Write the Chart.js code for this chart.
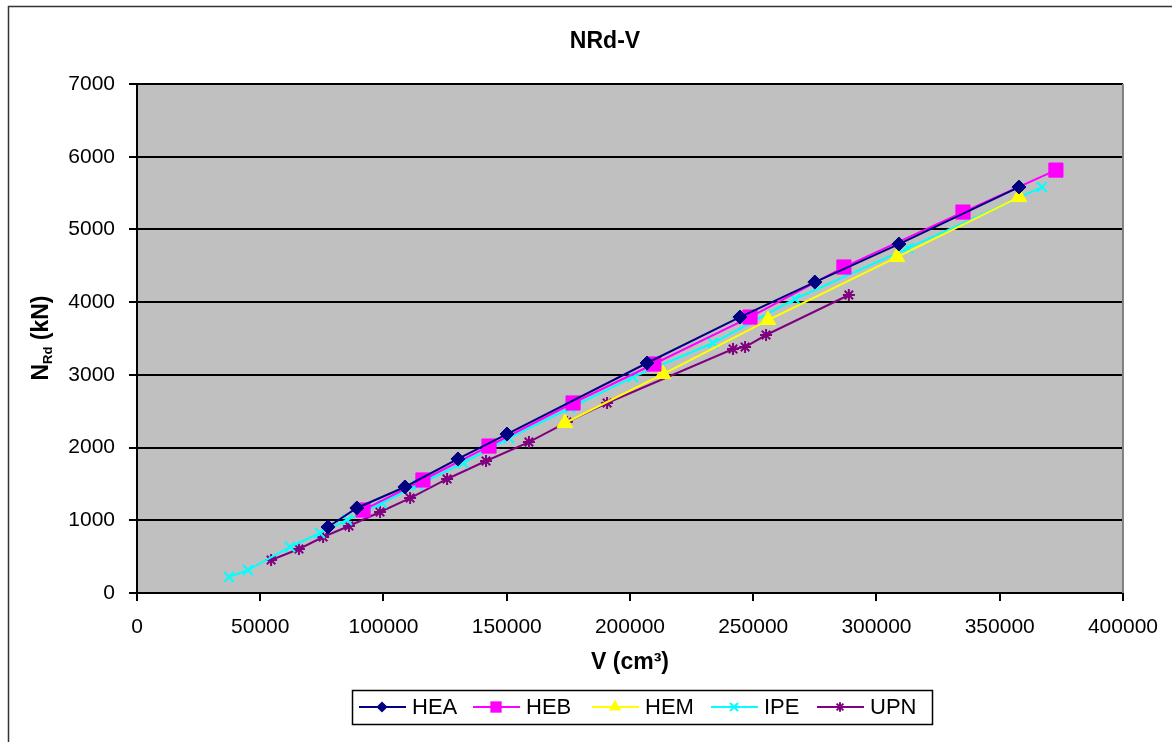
<!DOCTYPE html>
<html>
<head>
<meta charset="utf-8">
<script src="https://cdn.jsdelivr.net/npm/chart.js@4.4.0/dist/chart.umd.min.js"></script>
<style>
  html, body { margin: 0; padding: 0; background: #fff; }
  #wrap { width: 1172px; height: 742px; }
</style>
</head>
<body>
<div id="wrap"><canvas id="grafico" width="1172" height="742"></canvas></div>
<script>
// perfis: [V (cm3), NRd (kN)]
const hea = [[77500, 908], [89200, 1169], [108700, 1458], [130200, 1843], [150100, 2186],
             [206900, 3163], [244600, 3795], [275000, 4276], [309100, 4799], [357800, 5583]];
const heb = [[91700, 1141], [116000, 1554], [142800, 2021], [176900, 2613], [209700, 3149],
             [248700, 3795], [286800, 4483], [335100, 5239], [372800, 5816]];
const hem = [[173600, 2338], [213400, 3011], [256000, 3754], [308300, 4620], [357800, 5445]];
const ipe = [[37300, 220], [45000, 316], [62100, 633], [74200, 825], [85200, 1004],
             [99400, 1238], [114000, 1485], [132300, 1788], [150900, 2131], [175700, 2544],
             [201200, 2970], [233700, 3438], [266900, 4043], [312800, 4744], [367100, 5583]];
const upn = [[54400, 454], [65700, 605], [75500, 770], [86000, 921], [98600, 1114],
             [110800, 1306], [125800, 1568], [141600, 1815], [159000, 2076], [174400, 2351],
             [190700, 2613], [241800, 3355], [246700, 3383], [255200, 3548], [288800, 4098]];

const nomes = ['HEA', 'HEB', 'HEM', 'IPE', 'UPN'];
const xTicks = [0, 50000, 100000, 150000, 200000, 250000, 300000, 350000, 400000];
const yTicks = [0, 1000, 2000, 3000, 4000, 5000, 6000, 7000];

const fonte = "'Liberation Sans', Arial, sans-serif";

// estilo de cada série
const estilos = [
    { cor: '#000080', marca: 'rectRot', raio: 7 },
    { cor: '#FF00FF', marca: 'rect', raio: 10 },
    { cor: '#FFFF00', marca: 'triangle', raio: 9 },
    { cor: '#00FFFF', marca: 'crossRot', raio: 7 },
    { cor: '#800080', marca: 'star', raio: 6 }
];

function criaSerie(nome, pontos, est) {
    return {
        label: nome,
        data: pontos.map(p => ({ x: p[0], y: p[1] })),
        showLine: true,
        borderColor: est.cor,
        backgroundColor: est.cor,
        borderWidth: 2,
        pointStyle: est.marca,
        pointRadius: est.raio,
        pointBorderWidth: (est.marca == 'crossRot' || est.marca == 'star') ? 2 : 1,
        pointBackgroundColor: est.cor,
        pointBorderColor: est.cor,
        tension: 0
    };
}

// desenha um marcador igual ao do gráfico (usado na legenda)
function desenhaMarca(ctx, marca, x, y, r, cor) {
    ctx.save();
    ctx.fillStyle = cor;
    ctx.strokeStyle = cor;
    ctx.lineWidth = 2;
    ctx.beginPath();
    if (marca == 'rectRot') {
        ctx.moveTo(x, y - r); ctx.lineTo(x + r, y); ctx.lineTo(x, y + r); ctx.lineTo(x - r, y);
        ctx.closePath(); ctx.fill();
    } else if (marca == 'rect') {
        const s = r * Math.SQRT1_2;
        ctx.rect(x - s, y - s, 2 * s, 2 * s); ctx.fill();
    } else if (marca == 'triangle') {
        for (let i = 0; i < 3; i++) {
            const a = i * 2 * Math.PI / 3;
            const px = x + Math.sin(a) * r, py = y - Math.cos(a) * r;
            if (i == 0) ctx.moveTo(px, py); else ctx.lineTo(px, py);
        }
        ctx.closePath(); ctx.fill();
    } else if (marca == 'crossRot') {
        const d = r * Math.SQRT1_2;
        ctx.moveTo(x - d, y - d); ctx.lineTo(x + d, y + d);
        ctx.moveTo(x + d, y - d); ctx.lineTo(x - d, y + d);
        ctx.stroke();
    } else {
        const d = r * Math.SQRT1_2;
        ctx.moveTo(x - d, y - d); ctx.lineTo(x + d, y + d);
        ctx.moveTo(x + d, y - d); ctx.lineTo(x - d, y + d);
        ctx.moveTo(x, y - r); ctx.lineTo(x, y + r);
        ctx.moveTo(x - r, y); ctx.lineTo(x + r, y);
        ctx.stroke();
    }
    ctx.restore();
}

// fundo, moldura, títulos e legenda
const molduraPlugin = {
    id: 'moldura',
    beforeDraw(chart) {
        const ctx = chart.ctx;
        const area = chart.chartArea;
        ctx.save();
        ctx.fillStyle = '#ffffff';
        ctx.fillRect(0, 0, chart.width, chart.height);
        ctx.fillStyle = '#C0C0C0';
        ctx.fillRect(area.left, area.top, area.right - area.left, area.bottom - area.top);
        ctx.strokeStyle = '#333333';
        ctx.lineWidth = 1.5;
        ctx.strokeRect(8.5, 6.5, 1200, 800);
        ctx.restore();
    },
    beforeDatasetsDraw(chart) {
        const ctx = chart.ctx;
        const area = chart.chartArea;
        ctx.save();
        ctx.strokeStyle = '#808080';
        ctx.lineWidth = 2;
        ctx.beginPath();
        ctx.moveTo(area.right, area.top);
        ctx.lineTo(area.right, area.bottom);
        ctx.stroke();
        ctx.restore();
    },
    afterDraw(chart) {
        const ctx = chart.ctx;
        ctx.save();
        ctx.fillStyle = '#000';
        ctx.textBaseline = 'middle';

        // título
        ctx.font = 'bold 23px ' + fonte;
        ctx.textAlign = 'center';
        ctx.fillText('NRd-V', 605, 42);

        // título do eixo x
        ctx.font = 'bold 23px ' + fonte;
        ctx.fillText('V (cm\u00B3)', 630, 663);

        // título do eixo y, com índice Rd
        ctx.translate(42, 338);
        ctx.rotate(-Math.PI / 2);
        ctx.textAlign = 'left';
        const fN = 'bold 23px ' + fonte, fSub = 'bold 13px ' + fonte;
        ctx.font = fN; const wN = ctx.measureText('N').width;
        ctx.font = fSub; const wSub = ctx.measureText('Rd').width;
        ctx.font = fN; const wResto = ctx.measureText(' (kN)').width;
        let x0 = -(wN + wSub + wResto) / 2;
        ctx.font = fN; ctx.fillText('N', x0, 0);
        ctx.font = fSub; ctx.fillText('Rd', x0 + wN, 6);
        ctx.font = fN; ctx.fillText(' (kN)', x0 + wN + wSub, 0);
        ctx.restore();

        // legenda
        ctx.save();
        ctx.strokeStyle = '#000';
        ctx.lineWidth = 1.5;
        ctx.strokeRect(352.5, 690.5, 580, 34);
        const linhas = [359, 473, 592, 711, 817];
        const yLeg = 707;
        ctx.font = '22px ' + fonte;
        ctx.textBaseline = 'middle';
        ctx.textAlign = 'left';
        nomes.forEach((nome, i) => {
            const est = estilos[i];
            const lx = linhas[i];
            ctx.strokeStyle = est.cor;
            ctx.lineWidth = 2;
            ctx.beginPath();
            ctx.moveTo(lx, yLeg);
            ctx.lineTo(lx + 47, yLeg);
            ctx.stroke();
            desenhaMarca(ctx, est.marca, lx + 23, yLeg, est.raio * 0.8, est.cor);
            ctx.fillStyle = '#000';
            ctx.fillText(nome, lx + 53, yLeg + 1);
        });
        ctx.restore();
    }
};

const ctx = document.getElementById('grafico');

new Chart(ctx, {
    type: 'scatter',
    data: {
        datasets: [
            criaSerie(nomes[0], hea, estilos[0]),
            criaSerie(nomes[1], heb, estilos[1]),
            criaSerie(nomes[2], hem, estilos[2]),
            criaSerie(nomes[3], ipe, estilos[3]),
            criaSerie(nomes[4], upn, estilos[4])
        ]
    },
    options: {
        responsive: false,
        animation: false,
        devicePixelRatio: 1,
        layout: { padding: { left: 0, top: 84, right: 49, bottom: 109 } },
        plugins: {
            legend: { display: false },
            title: { display: false },
            tooltip: { enabled: false }
        },
        scales: {
            x: {
                type: 'linear',
                min: 0,
                max: 400000,
                afterFit: (scale) => { scale.height = 40; },
                afterBuildTicks: (scale) => { scale.ticks = xTicks.map(v => ({ value: v })); },
                grid: { drawOnChartArea: false, drawTicks: true, tickLength: 8, color: '#000', lineWidth: 2 },
                border: { color: '#000', width: 2 },
                ticks: {
                    color: '#000',
                    padding: 14,
                    maxRotation: 0,
                    font: { family: fonte, size: 21 },
                    callback: (v) => String(v)
                }
            },
            y: {
                type: 'linear',
                min: 0,
                max: 7000,
                afterFit: (scale) => { scale.width = 137; },
                afterBuildTicks: (scale) => { scale.ticks = yTicks.map(v => ({ value: v })); },
                grid: { color: '#000', lineWidth: 2, tickLength: 8 },
                border: { color: '#000', width: 2 },
                ticks: {
                    color: '#000',
                    padding: 14,
                    font: { family: fonte, size: 21 },
                    callback: (v) => String(v)
                }
            }
        }
    },
    plugins: [molduraPlugin]
});
</script>
</body>
</html>
